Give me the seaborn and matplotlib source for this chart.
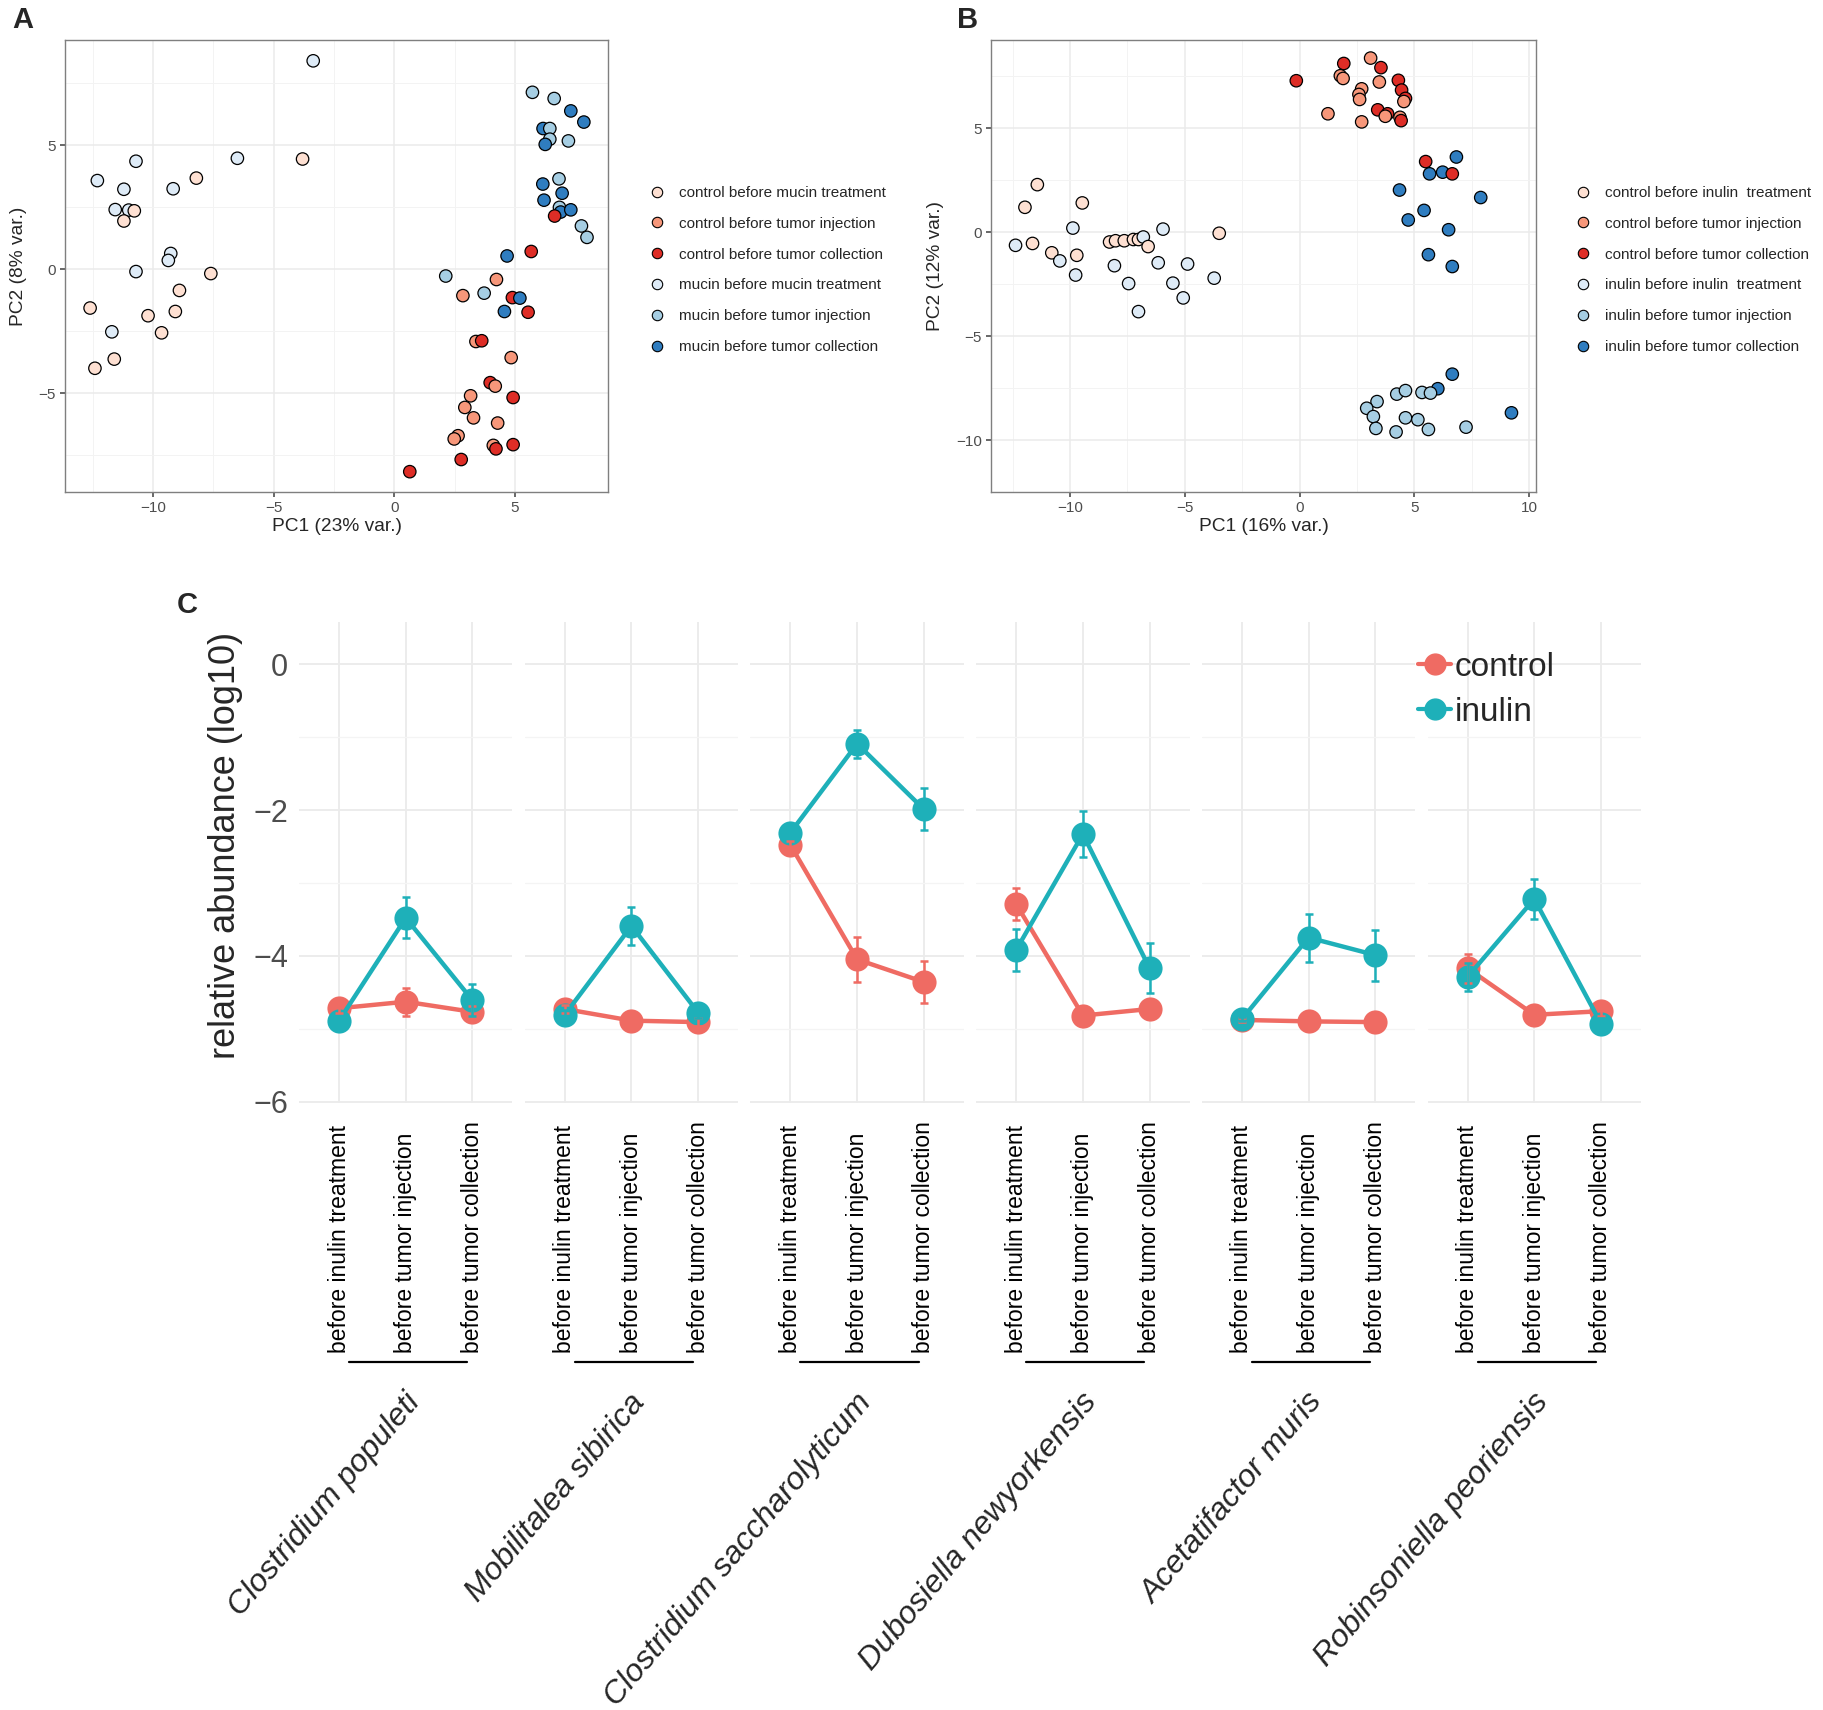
import matplotlib
matplotlib.use("Agg")
import matplotlib.pyplot as plt
import matplotlib.transforms as mtransforms
from matplotlib.lines import Line2D
import pandas as pd
import seaborn as sns

# ---- panel A: PCA, mucin experiment ----
A_LABELS = ["control before mucin treatment", "control before tumor injection",
            "control before tumor collection", "mucin before mucin treatment",
            "mucin before tumor injection", "mucin before tumor collection"]
a_pc1 = [-3.36, -6.5, -3.8, -10.7, -12.3, -11.2, -8.2, -9.16, -11.56, -11.0, -10.77, -11.2,
         -9.26, -9.36, -10.7, -7.6, -8.9, -12.6, -10.2, -9.07, -11.7, -9.64, -11.6, -12.4,
         5.72, 6.62, 7.31, 7.85, 6.16, 6.44, 6.44, 7.21, 6.25, 6.15, 6.82, 6.95, 6.2, 6.84,
         6.89, 7.31, 6.64, 7.75, 7.98, 5.67, 4.67, 2.13, 4.23, 2.84, 3.72, 4.89, 5.2, 4.56,
         5.54, 3.38, 3.62, 4.84, 3.97, 4.18, 4.92, 3.16, 2.92, 3.28, 4.28, 2.64, 2.48, 4.1,
         4.21, 4.92, 2.77, 0.64]
a_pc2 = [8.4, 4.47, 4.44, 4.35, 3.57, 3.22, 3.67, 3.24, 2.4, 2.38, 2.35, 1.94,
         0.63, 0.35, -0.1, -0.18, -0.86, -1.57, -1.88, -1.71, -2.53, -2.57, -3.63, -4.0,
         7.13, 6.88, 6.38, 5.93, 5.67, 5.67, 5.24, 5.17, 5.03, 3.43, 3.64, 3.06, 2.78, 2.49,
         2.3, 2.39, 2.14, 1.74, 1.28, 0.71, 0.53, -0.28, -0.42, -1.07, -0.97, -1.15, -1.17, -1.71,
         -1.74, -2.92, -2.89, -3.57, -4.58, -4.72, -5.18, -5.11, -5.58, -6.0, -6.21, -6.72, -6.85, -7.11,
         -7.25, -7.08, -7.68, -8.17]
a_group = [3, 3, 0, 3, 3, 3, 0, 3, 3, 3, 0, 0,
           3, 3, 3, 0, 0, 0, 0, 0, 3, 0, 0, 0,
           4, 4, 5, 5, 5, 4, 4, 4, 5, 5, 4, 5, 5, 4,
           5, 5, 2, 4, 4, 2, 5, 4, 1, 1, 4, 2, 5, 5,
           2, 1, 2, 1, 2, 1, 2, 1, 1, 1, 1, 1, 1, 1,
           2, 2, 2, 2]

# ---- panel B: PCA, inulin experiment ----
B_LABELS = ["control before inulin  treatment", "control before tumor injection",
            "control before tumor collection", "inulin before inulin  treatment",
            "inulin before tumor injection", "inulin before tumor collection"]
b_pc1 = [-0.14, 1.93, 3.1, 3.55, 1.78, 1.9, 3.48, 4.31, 2.71, 2.59, 2.62, 4.45, 4.62, 4.55,
         1.24, 3.41, 3.84, 3.74, 4.38, 4.43, 2.71,
         5.5, 6.84, 5.67, 6.24, 6.66, 4.36, 7.9, 5.43, 4.74, 6.5, 5.62, 6.66,
         6.66, 6.03, 4.24, 4.62, 5.34, 5.71, 3.38, 2.93, 3.22, 4.62, 5.16, 3.33, 4.21, 5.62, 7.26, 9.24,
         -11.43, -11.97, -9.47, -9.88, -5.95, -3.5, -12.38, -11.64, -10.8, -10.45, -9.71, -9.76,
         -8.28, -8.02, -7.64, -7.24, -7.02, -6.81, -6.6, -8.07, -6.16, -4.88, -7.45, -5.52, -3.72,
         -5.07, -7.02]
b_pc2 = [7.29, 8.12, 8.38, 7.92, 7.53, 7.4, 7.23, 7.31, 6.9, 6.63, 6.39, 6.84, 6.44, 6.29,
         5.7, 5.89, 5.7, 5.58, 5.53, 5.37, 5.31,
         3.4, 3.62, 2.81, 2.89, 2.81, 2.03, 1.67, 1.05, 0.59, 0.12, -1.08, -1.65,
         -6.83, -7.53, -7.79, -7.62, -7.71, -7.74, -8.15, -8.47, -8.87, -8.93, -9.02, -9.44, -9.61, -9.49, -9.38, -8.69,
         2.29, 1.2, 1.41, 0.2, 0.15, -0.05, -0.63, -0.54, -0.99, -1.38, -1.11, -2.06,
         -0.47, -0.41, -0.41, -0.35, -0.35, -0.23, -0.69, -1.61, -1.47, -1.53, -2.47, -2.45, -2.21,
         -3.16, -3.82]
b_group = [2, 2, 1, 2, 1, 1, 1, 2, 1, 1, 1, 2, 2, 1,
           1, 2, 2, 1, 1, 2, 1,
           2, 5, 5, 5, 2, 5, 5, 5, 5, 5, 5, 5,
           5, 5, 4, 4, 4, 4, 4, 4, 4, 4, 4, 4, 4, 4, 4, 5,
           0, 0, 0, 3, 3, 0, 3, 0, 0, 3, 0, 3,
           0, 0, 0, 0, 0, 3, 0, 3, 3, 3, 3, 3, 3,
           3, 3]

PCA_COLORS = ["#FEE0D2", "#F7977A", "#DE2D26", "#DEEBF7", "#A6CEE3", "#2F7DC0"]

# ---- panel C: relative abundance per species ----
SPECIES = ["Clostridium populeti", "Mobilitalea sibirica", "Clostridium saccharolyticum",
           "Dubosiella newyorkensis", "Acetatifactor muris", "Robinsoniella peoriensis"]
TIMEPOINTS = ["before inulin treatment", "before tumor injection", "before tumor collection"]
control_mean = [[-4.72, -4.63, -4.77], [-4.73, -4.89, -4.91], [-2.48, -4.05, -4.36],
                [-3.29, -4.82, -4.73], [-4.88, -4.90, -4.91], [-4.17, -4.81, -4.76]]
control_se = [[0.06, 0.19, 0.08], [0.06, 0.04, 0.05], [0.06, 0.31, 0.29],
              [0.22, 0.05, 0.10], [0.03, 0.03, 0.03], [0.20, 0.05, 0.06]]
inulin_mean = [[-4.89, -3.48, -4.61], [-4.81, -3.59, -4.78], [-2.31, -1.09, -1.99],
               [-3.92, -2.33, -4.17], [-4.87, -3.75, -3.99], [-4.29, -3.22, -4.93]]
inulin_se = [[0.05, 0.28, 0.22], [0.06, 0.26, 0.07], [0.05, 0.19, 0.29],
             [0.29, 0.31, 0.34], [0.03, 0.33, 0.35], [0.19, 0.28, 0.07]]
C_COLORS = {"control": "#EF6B63", "inulin": "#1EB0B9"}

sns.set_theme(style="white")
plt.rcParams["font.family"] = ["Liberation Sans", "DejaVu Sans"]

W, H = 1824, 1710
fig = plt.figure(figsize=(W / 100, H / 100), dpi=100)


def box(left, top, right, bottom):
    return [left / W, 1 - bottom / H, (right - left) / W, (bottom - top) / H]


def pca_panel(rect, pc1, pc2, group, labels, xlim, ylim, xticks, yticks, xlabel, ylabel, leg_x, ylab_x):
    ax = fig.add_axes(rect)
    df = pd.DataFrame({"pc1": pc1, "pc2": pc2, "group": [labels[g] for g in group]})
    palette = dict(zip(labels, PCA_COLORS))
    sns.scatterplot(data=df, x="pc1", y="pc2", hue="group", hue_order=labels, palette=palette,
                    s=80, edgecolor="black", linewidth=0.9, legend=False, ax=ax, zorder=3)
    ax.set_xlim(*xlim)
    ax.set_ylim(*ylim)
    ax.set_xticks(xticks)
    ax.set_yticks(yticks)
    ax.set_xticks([t + 2.5 for t in xticks[:-1]] + [xticks[0] - 2.5], minor=True)
    ax.set_yticks([t + 2.5 for t in yticks[:-1]] + [yticks[0] - 2.5, yticks[-1] + 2.5], minor=True)
    ax.grid(which="major", color="#EBEBEB", linewidth=1.1)
    ax.grid(which="minor", color="#F3F3F3", linewidth=0.7)
    ax.set_axisbelow(True)
    for sp in ax.spines.values():
        sp.set_color("#7F7F7F")
        sp.set_linewidth(1.0)
    ax.tick_params(which="major", length=3.5, color="#555555", labelsize=11, labelcolor="#4D4D4D", pad=3,
                   bottom=True, left=True)
    ax.tick_params(which="minor", length=0)
    ax.set_xlabel(xlabel, fontsize=13.8, labelpad=2)
    ax.set_ylabel(ylabel, fontsize=13.8)
    ax.yaxis.set_label_coords(ylab_x, 0.5)
    handles = [Line2D([0], [0], marker="o", linestyle="none", markersize=7.5,
                      markerfacecolor=c, markeredgecolor="black", markeredgewidth=0.8)
               for c in PCA_COLORS]
    ax.legend(handles, labels, loc="center left", bbox_to_anchor=(leg_x / W, 1 - 270 / H),
              bbox_transform=fig.transFigure, frameon=False, fontsize=11,
              labelspacing=1.1, handletextpad=0.4, borderpad=0, borderaxespad=0)
    return ax


pca_panel(box(65, 40, 608, 492), a_pc1, a_pc2, a_group, A_LABELS,
          (-13.64, 8.85), (-8.99, 9.24), [-10, -5, 0, 5], [-5, 0, 5],
          "PC1 (23% var.)", "PC2 (8% var.)", 642, -0.07)
pca_panel(box(991, 40, 1536, 492), b_pc1, b_pc2, b_group, B_LABELS,
          (-13.45, 10.31), (-10.5, 9.25), [-10, -5, 0, 5, 10], [-10, -5, 0, 5],
          "PC1 (16% var.)", "PC2 (12% var.)", 1568, -0.086)

# ---- panel C facets ----
facet_left, facet_step, facet_w = 299, 225.7, 213.5
for i, sp in enumerate(SPECIES):
    x0 = facet_left + i * facet_step
    ax = fig.add_axes(box(x0, 622, x0 + facet_w, 1103))
    df = pd.DataFrame({
        "time": TIMEPOINTS * 2,
        "group": ["control"] * 3 + ["inulin"] * 3,
        "value": control_mean[i] + inulin_mean[i],
    })
    sns.pointplot(data=df, x="time", y="value", hue="group", order=TIMEPOINTS,
                  hue_order=["control", "inulin"], palette=C_COLORS, errorbar=None,
                  markersize=15, linewidth=3.2, legend=False, ax=ax)
    for g, means, ses in (("control", control_mean[i], control_se[i]),
                          ("inulin", inulin_mean[i], inulin_se[i])):
        ax.errorbar(range(3), means, yerr=ses, fmt="none", ecolor=C_COLORS[g],
                    elinewidth=1.8, capsize=3, capthick=1.8, zorder=4)
    ax.set_xlim(-0.6, 2.6)
    ax.set_ylim(-6.02, 0.58)
    ax.set_yticks([0, -2, -4, -6])
    ax.set_yticks([-1, -3, -5], minor=True)
    ax.grid(which="major", color="#EBEBEB", linewidth=1.3)
    ax.grid(which="minor", axis="y", color="#F4F4F4", linewidth=0.9)
    ax.set_axisbelow(True)
    sns.despine(ax=ax, left=True, bottom=True)
    ax.set_xlabel("")
    ax.set_xticks(range(3))
    ax.set_xticklabels(TIMEPOINTS, rotation=90, va="bottom", ha="center", fontsize=16.5, color="black")
    ax.tick_params(axis="x", length=0, pad=180)
    ax.tick_params(axis="y", which="both", length=0)
    if i == 0:
        ax.set_yticklabels(["0", "\u22122", "\u22124", "\u22126"], fontsize=22, color="#4D4D4D")
        ax.tick_params(axis="y", pad=8)
        ax.set_ylabel("relative abundance (log10)", fontsize=26)
        ax.yaxis.set_label_coords(-0.262, 0.536)
    else:
        ax.set_yticklabels([])
        ax.set_ylabel("")
    trans = mtransforms.blended_transform_factory(ax.transData, ax.transAxes)
    ax.plot([0.15, 1.92], [-0.538, -0.538], transform=trans, color="black", lw=1.6, clip_on=False)
    ax.text(1.13, -0.612, sp, transform=trans, rotation=50, rotation_mode="anchor",
            ha="right", va="center", fontsize=23, style="italic")

leg_handles = [Line2D([0], [0], color=C_COLORS[g], marker="o", markersize=15, lw=3)
               for g in ("control", "inulin")]
fig.legend(leg_handles, ["control", "inulin"], loc="center left",
           bbox_to_anchor=(1418 / W, 1 - 690 / H), frameon=False, fontsize=24,
           handlelength=1.0, handletextpad=0.1, labelspacing=0.42, borderpad=0, borderaxespad=0)

for lab, x, y in (("A", 12, 20), ("B", 957, 20), ("C", 177, 605)):
    fig.text(x / W, 1 - y / H, lab, fontsize=21, fontweight="bold", va="center", ha="left")

fig.savefig("out.png", dpi=100)
